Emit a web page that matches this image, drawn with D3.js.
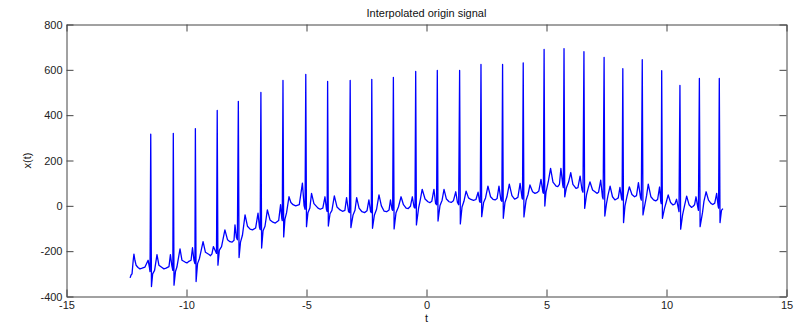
<!DOCTYPE html>
<html>
<head>
<meta charset="utf-8">
<script src="https://cdn.jsdelivr.net/npm/d3@7"></script>
<style>
  body { margin: 0; background: #fff; }
  svg { display: block; font-family: "Liberation Sans", Arial, Helvetica, sans-serif; }
</style>
</head>
<body>
<svg id="chart" width="800" height="327"></svg>
<script>
var titleText = "Interpolated origin signal";
var xLabelText = "t";
var yLabelText = "x(t)";
var xTicks = [-15, -10, -5, 0, 5, 10, 15];
var yTicks = [-400, -200, 0, 200, 400, 600, 800];

// [t, x(t)]
var signal = [
  [-12.35,-318],[-12.31,-305],[-12.27,-300],[-12.22,-240],[-12.19,-213],[-12.15,-240],[-12.10,-262],[-12.02,-272],[-11.94,-278],[-11.85,-275],[-11.73,-270],
  [-11.60,-240],[-11.54,-275],[-11.52,-290],[-11.49,316],[-11.46,-356],[-11.41,-300],[-11.33,-285],[-11.23,-215],[-11.15,-262],[-11.02,-272],[-10.94,-278],[-10.85,-275],[-10.73,-268],
  [-10.67,-215],[-10.61,-265],[-10.57,-285],[-10.55,320],[-10.52,-350],[-10.46,-290],[-10.40,-270],[-10.27,-190],[-10.19,-240],[-10.06,-248],[-9.98,-252],[-9.90,-245],[-9.81,-240],
  [-9.75,-185],[-9.69,-240],[-9.65,-255],[-9.63,341],[-9.60,-334],[-9.54,-255],[-9.46,-232],[-9.31,-158],[-9.21,-205],[-9.06,-215],[-9.00,-220],[-8.94,-212],
  [-8.88,-180],[-8.79,-200],[-8.75,-210],[-8.72,421],[-8.69,-262],[-8.63,-195],[-8.54,-180],[-8.40,-106],[-8.29,-150],[-8.19,-158],[-8.10,-160],[-8.02,-152],
  [-7.98,-84],[-7.92,-140],[-7.88,-150],[-7.84,461],[-7.81,-228],[-7.75,-160],[-7.67,-130],[-7.56,-40],[-7.46,-90],[-7.35,-103],[-7.25,-106],[-7.12,-98],
  [-7.02,-32],[-6.96,-95],[-6.93,-105],[-6.90,500],[-6.87,-186],[-6.81,-110],[-6.73,-90],[-6.63,-18],[-6.52,-62],[-6.40,-72],[-6.30,-76],[-6.16,-65],
  [-6.08,5],[-6.03,-55],[-6.01,-65],[-5.98,553],[-5.95,-137],[-5.90,-60],[-5.83,-30],[-5.73,40],[-5.65,15],[-5.56,5],[-5.45,0],[-5.30,5],
  [-5.17,100],[-5.10,0],[-5.06,-15],[-5.03,580],[-5.00,-92],[-4.94,-30],[-4.86,-10],[-4.79,55],[-4.69,10],[-4.52,-10],[-4.43,-15],[-4.32,-10],
  [-4.23,40],[-4.17,-15],[-4.14,-25],[-4.12,549],[-4.09,-89],[-4.02,-35],[-3.94,-20],[-3.84,44],[-3.73,-5],[-3.60,-18],[-3.50,-24],[-3.40,-20],
  [-3.33,36],[-3.25,-25],[-3.21,-30],[-3.18,553],[-3.15,-96],[-3.06,-40],[-2.98,-20],[-2.91,36],[-2.81,-10],[-2.69,-26],[-2.58,-30],[-2.48,-22],
  [-2.40,26],[-2.33,-25],[-2.30,-30],[-2.28,558],[-2.25,-99],[-2.17,-40],[-2.08,-15],[-1.98,48],[-1.88,0],[-1.77,-23],[-1.66,-26],[-1.56,-18],
  [-1.50,26],[-1.44,-15],[-1.41,-20],[-1.38,567],[-1.35,-102],[-1.27,-30],[-1.17,-5],[-1.06,40],[-0.96,5],[-0.85,-10],[-0.76,-12],[-0.67,-2],
  [-0.59,40],[-0.52,-5],[-0.48,-10],[-0.45,593],[-0.42,-84],[-0.33,-10],[-0.27,20],[-0.18,73],[-0.06,30],[0.06,18],[0.14,14],[0.22,20],
  [0.31,73],[0.38,10],[0.42,5],[0.45,597],[0.48,-67],[0.56,0],[0.65,25],[0.73,73],[0.83,30],[0.94,18],[1.03,15],[1.12,22],
  [1.22,62],[1.29,15],[1.34,5],[1.38,597],[1.41,-80],[1.48,-5],[1.56,20],[1.65,65],[1.75,35],[1.85,28],[1.96,24],[2.06,28],
  [2.15,60],[2.21,20],[2.24,15],[2.27,624],[2.30,-48],[2.38,15],[2.46,35],[2.56,87],[2.67,40],[2.77,29],[2.86,26],[2.94,32],
  [3.02,87],[3.10,25],[3.14,20],[3.17,624],[3.20,-55],[3.27,15],[3.35,40],[3.45,96],[3.56,45],[3.67,30],[3.74,33],[3.81,38],
  [3.90,99],[3.98,35],[4.00,30],[4.03,631],[4.06,-49],[4.15,25],[4.23,50],[4.31,92],[4.42,62],[4.52,55],[4.60,58],[4.68,65],
  [4.77,117],[4.85,60],[4.87,55],[4.90,690],[4.93,-1],[4.98,60],[5.08,110],[5.17,165],[5.27,105],[5.40,87],[5.47,85],[5.54,95],
  [5.60,165],[5.68,90],[5.70,80],[5.73,694],[5.76,40],[5.83,80],[5.92,105],[6.01,146],[6.10,95],[6.23,77],[6.31,80],
  [6.40,131],[6.48,70],[6.52,60],[6.56,680],[6.59,-11],[6.67,50],[6.73,75],[6.81,106],[6.92,70],[7.02,62],[7.10,55],[7.17,60],
  [7.26,113],[7.33,40],[7.36,30],[7.40,655],[7.43,-45],[7.50,10],[7.56,45],[7.65,87],[7.75,40],[7.85,26],[7.92,30],[7.99,35],
  [8.06,81],[8.13,30],[8.15,25],[8.18,605],[8.21,-74],[8.27,0],[8.35,40],[8.45,84],[8.56,50],[8.67,40],[8.75,45],
  [8.83,102],[8.92,35],[8.95,25],[8.99,645],[9.02,-40],[9.10,5],[9.17,45],[9.24,96],[9.35,40],[9.46,26],[9.55,22],[9.63,28],
  [9.71,83],[9.76,20],[9.78,10],[9.80,596],[9.83,-55],[9.92,-10],[10.00,20],[10.07,48],[10.17,15],[10.27,4],[10.35,8],
  [10.42,29],[10.50,-15],[10.52,-25],[10.56,531],[10.59,-103],[10.67,-40],[10.75,0],[10.84,43],[10.94,5],[11.04,-7],[11.10,-3],[11.17,5],
  [11.23,40],[11.31,-10],[11.33,-20],[11.37,562],[11.40,-92],[11.50,-30],[11.56,20],[11.65,62],[11.75,25],[11.85,11],[11.93,6],[12.01,12],
  [12.09,55],[12.15,0],[12.17,-10],[12.20,562],[12.23,-74],[12.29,-20],[12.35,-12]
];

(function () {
  var svg = d3.select("#chart"),
    plotLeft = 66.5, plotRight = 786.5, plotTop = 24.5, plotBottom = 296.5;

  var xScale = d3.scaleLinear().domain([-15, 15]).range([plotLeft, plotRight]),
    yScale = d3.scaleLinear().domain([-400, 800]).range([plotBottom, plotTop]);

  var plainNum = function (d) { return String(d); };

  svg.append("rect").attr("width", 800).attr("height", 327).attr("fill", "#fff");

  // signal
  var line = d3.line()
    .x(function (d) { return xScale(d[0]); })
    .y(function (d) { return yScale(d[1]); });

  svg.append("path")
    .datum(signal)
    .attr("d", line)
    .attr("fill", "none")
    .attr("stroke", "#0000ff")
    .attr("stroke-width", 1.3)
    .attr("stroke-linejoin", "round");

  // axes, ticks pointing inward like matlab
  var axisColor = "#444";

  var gx = svg.append("g")
    .attr("transform", "translate(0," + plotBottom + ")")
    .call(d3.axisBottom(xScale).tickValues(xTicks).tickFormat(plainNum).tickSizeInner(-7).tickSizeOuter(0).tickPadding(5));

  var gxTop = svg.append("g")
    .attr("transform", "translate(0," + plotTop + ")")
    .call(d3.axisTop(xScale).tickValues(xTicks).tickSizeInner(-7).tickSizeOuter(0).tickFormat(""));

  var gy = svg.append("g")
    .attr("transform", "translate(" + plotLeft + ",0)")
    .call(d3.axisLeft(yScale).tickValues(yTicks).tickFormat(plainNum).tickSizeInner(-7).tickSizeOuter(0).tickPadding(4));

  var gyRight = svg.append("g")
    .attr("transform", "translate(" + plotRight + ",0)")
    .call(d3.axisRight(yScale).tickValues(yTicks).tickSizeInner(-7).tickSizeOuter(0).tickFormat(""));

  [gx, gxTop, gy, gyRight].forEach(function (g) {
    g.selectAll("path").attr("stroke", axisColor);
    g.selectAll("line").attr("stroke", axisColor);
    g.selectAll("text")
      .attr("fill", "#222")
      .style("font-size", "11px")
      .style("font-family", "'Liberation Sans', Arial, sans-serif");
  });

  // title and labels
  svg.append("text")
    .attr("x", (plotLeft + plotRight) / 2)
    .attr("y", 17)
    .attr("text-anchor", "middle")
    .attr("fill", "#111")
    .style("font-size", "11px")
    .text(titleText);

  svg.append("text")
    .attr("x", (plotLeft + plotRight) / 2)
    .attr("y", 322)
    .attr("text-anchor", "middle")
    .attr("fill", "#111")
    .style("font-size", "11px")
    .text(xLabelText);

  svg.append("text")
    .attr("text-anchor", "middle")
    .attr("transform", "translate(31," + (plotTop + plotBottom) / 2 + ")rotate(-90)")
    .attr("fill", "#111")
    .style("font-size", "11px")
    .text(yLabelText);
})();
</script>
</body>
</html>
